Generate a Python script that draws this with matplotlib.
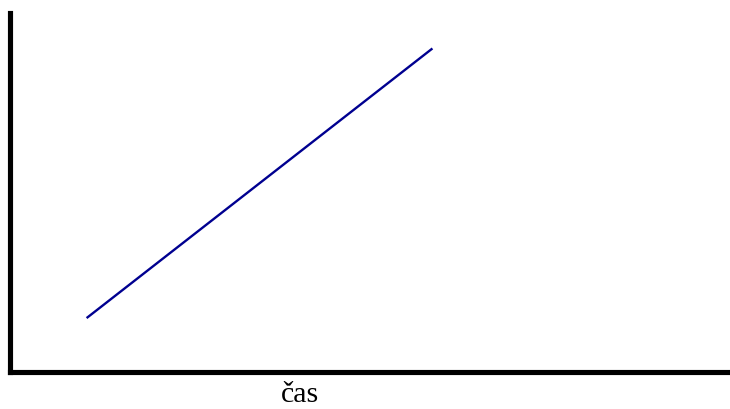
import matplotlib
matplotlib.use("Agg")
import matplotlib.pyplot as plt

time = [1.07, 5.87]
value = [1.50, 9.00]
x_label = "čas"

W, H = 730, 410
fig = plt.figure(figsize=(W / 100, H / 100), dpi=100)
left, right, bottom, top = 9.5, 730, 373, 13.5
ax = fig.add_axes([left / W, (H - bottom) / H, (right - left) / W, (bottom - top) / H])
ax.plot(time, value, color="#000090", lw=1.7, solid_capstyle="butt")
ax.set_xlim(0, 10)
ax.set_ylim(0, 10)
ax.set_xticks([])
ax.set_yticks([])
for s in ["top", "right"]:
    ax.spines[s].set_visible(False)
for s in ["left", "bottom"]:
    ax.spines[s].set_linewidth(3.7)
    ax.spines[s].set_color("black")
    ax.spines[s].set_capstyle("projecting")
fig.text(300 / W, 1 - 402 / H, x_label, ha="center", va="baseline",
         fontsize=21.5, family="Liberation Serif")
fig.savefig("out.png", dpi=100)
